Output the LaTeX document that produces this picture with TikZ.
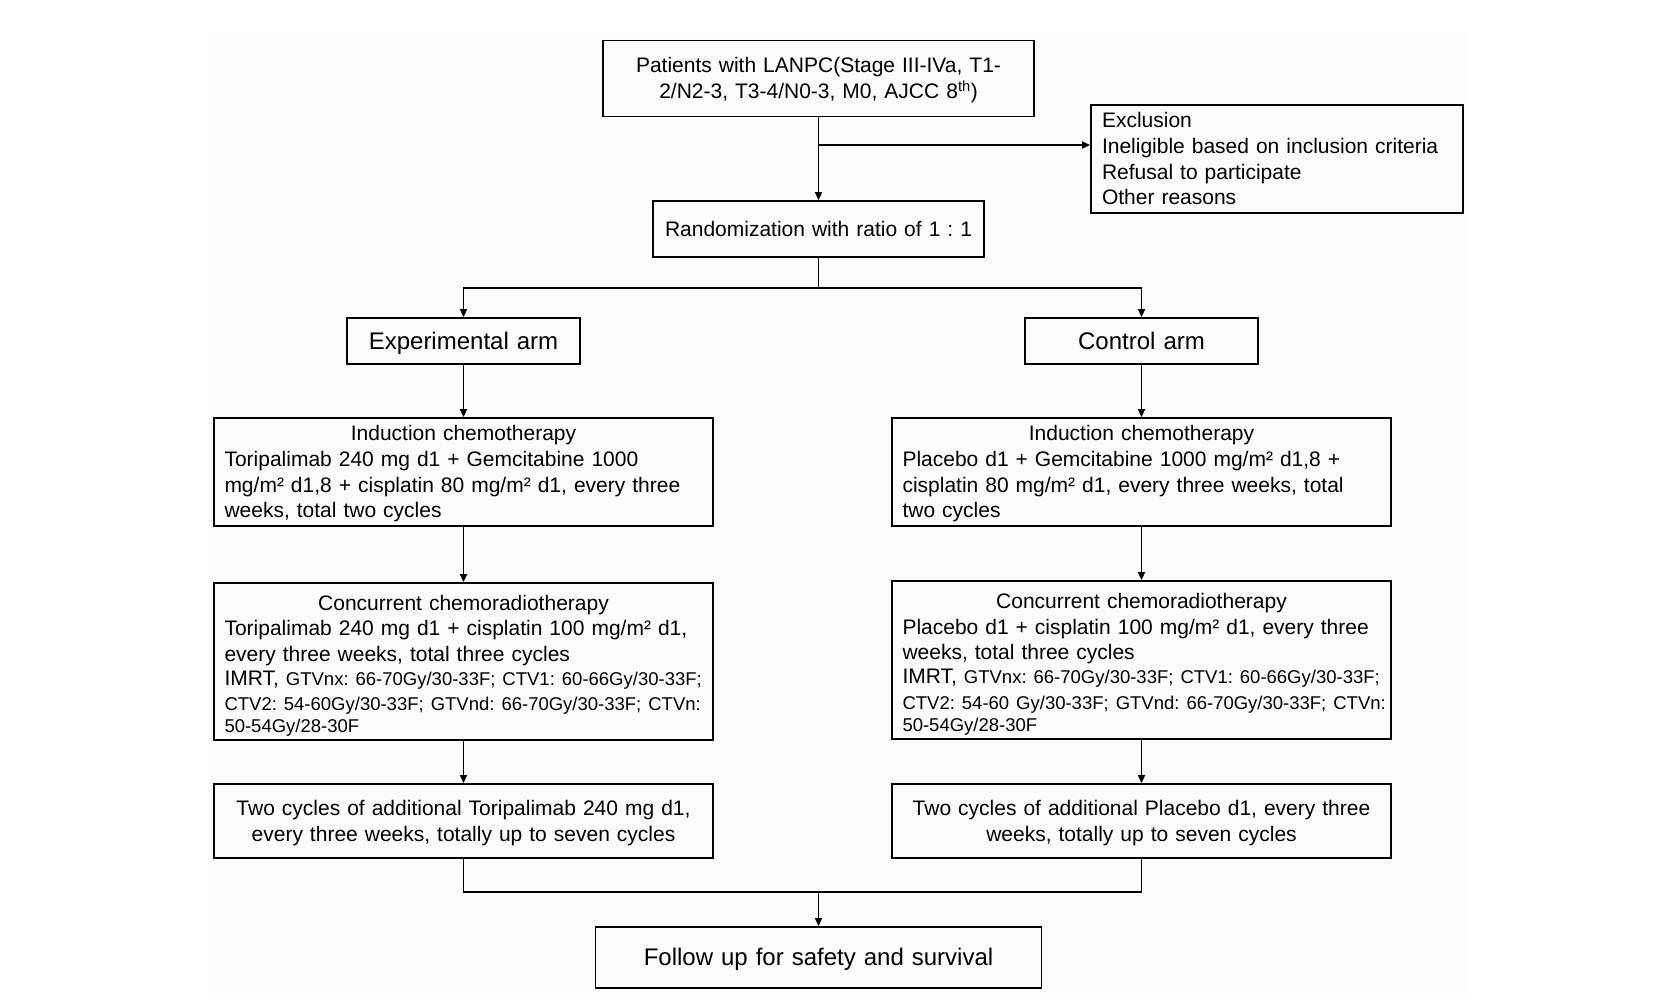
\documentclass[tikz,border=0pt]{standalone}
\usepackage{fontspec}
\setmainfont{Liberation Sans}
\usetikzlibrary{arrows.meta}
\definecolor{bgc}{RGB}{251,251,251}
\newcommand{\sm}{\fontsize{18.5}{23}\selectfont}
\frenchspacing
\begin{document}
\begin{tikzpicture}[x=1pt,y=-1pt,
  box/.style={draw, line width=1.8pt, inner xsep=10pt, inner ysep=0pt,
    font=\fontsize{21}{25.7}\selectfont\frenchspacing,
    execute at begin node={\rule{0pt}{0.905em}},
    execute at end node={\rule[-0.212em]{0pt}{0.212em}}},
  cbox/.style={box, text width=#1, align=center},
  wbox/.style={box, text width=478pt, inner xsep=10.5pt, align=left},
  big/.style={font=\fontsize{24}{29}\selectfont},
  ln/.style={line width=1.6pt},
  arr/.style={ln, -{Triangle[length=8pt,width=7pt]}}]
\useasboundingbox (0,0) rectangle (1676,1004);
\fill[bgc] (208,33) rectangle (1468,993);

\node[cbox=411pt, minimum height=76pt] (top) at (818.5,78.5)
  {Patients with LANPC(Stage III-IVa, T1-\\2/N2-3, T3-4/N0-3, M0, AJCC 8\textsuperscript{th})};
\node[box, text width=350pt, inner xsep=11pt, minimum height=108pt, align=left] (excl) at (1277,159)
  {Exclusion\\Ineligible based on inclusion criteria\\Refusal to participate\\Other reasons};
\node[cbox=311pt, minimum height=56pt] (rand) at (818.5,229)
  {Randomization with ratio of 1 : 1};
\node[cbox=213pt, big, minimum height=46pt] (expt) at (463.5,341) {Experimental arm};
\node[cbox=213pt, big, minimum height=46pt] (ctrl) at (1141.5,341) {Control arm};

\node[wbox, minimum height=108pt] (indL) at (463.5,472)
  {\makebox[\hsize]{Induction chemotherapy}\\
   \mbox{Toripalimab 240 mg d1 + Gemcitabine 1000}\\
   \mbox{mg/m² d1,8 + cisplatin 80 mg/m² d1, every three}\\
   weeks, total two cycles};
\node[wbox, minimum height=108pt] (indR) at (1141.5,472)
  {\makebox[\hsize]{Induction chemotherapy}\\
   \mbox{Placebo d1 + Gemcitabine 1000 mg/m² d1,8 +}\\
   \mbox{cisplatin 80 mg/m² d1, every three weeks, total}\\
   two cycles};

\node[wbox, minimum height=157pt] (conL) at (463.5,661.5)
  {\rule{0pt}{24pt}\makebox[\hsize]{Concurrent chemoradiotherapy}\\
   \mbox{Toripalimab 240 mg d1 + cisplatin 100 mg/m² d1,}\\
   every three weeks, total three cycles\\[-2pt]
   \mbox{IMRT, {\sm GTVnx: 66-70Gy/30-33F; CTV1: 60-66Gy/30-33F;}}\\
   \mbox{\sm CTV2: 54-60Gy/30-33F; GTVnd: 66-70Gy/30-33F; CTVn:}\\[-4pt]
   \mbox{\sm 50-54Gy/28-30F}};
\node[wbox, minimum height=158pt] (conR) at (1141.5,660)
  {\rule{0pt}{24pt}\makebox[\hsize]{Concurrent chemoradiotherapy}\\
   \mbox{Placebo d1 + cisplatin 100 mg/m² d1, every three}\\
   weeks, total three cycles\\[-2pt]
   \mbox{IMRT, {\sm GTVnx: 66-70Gy/30-33F; CTV1: 60-66Gy/30-33F;}}\\
   \mbox{\sm CTV2: 54-60 Gy/30-33F; GTVnd: 66-70Gy/30-33F; CTVn:}\\[-4pt]
   \mbox{\sm 50-54Gy/28-30F}};

\node[cbox=479pt, minimum height=74pt] (twoL) at (463.5,821)
  {Two cycles of additional Toripalimab 240 mg d1,\\every three weeks, totally up to seven cycles};
\node[cbox=479pt, minimum height=74pt] (twoR) at (1141.5,821)
  {Two cycles of additional Placebo d1, every three\\weeks, totally up to seven cycles};

\node[cbox=426pt, big, minimum height=61pt] (fol) at (818.5,957.5)
  {Follow up for safety and survival};

\coordinate (ex) at (818.5,145);
\coordinate (sp) at (818.5,288);
\coordinate (mg) at (818.5,892);
\draw[arr] (top.south) -- (rand.north);
\draw[arr] (ex) -- (ex -| excl.west);
\draw[ln] (rand.south) -- (sp);
\draw[arr] (sp) -| (expt.north);
\draw[arr] (sp) -| (ctrl.north);
\draw[arr] (expt.south) -- (indL.north);
\draw[arr] (ctrl.south) -- (indR.north);
\draw[arr] (indL.south) -- (conL.north);
\draw[arr] (indR.south) -- (conR.north);
\draw[arr] (conL.south) -- (twoL.north);
\draw[arr] (conR.south) -- (twoR.north);
\draw[ln] (twoL.south) |- (mg) -| (twoR.south);
\draw[arr] (mg) -- (fol.north);
\end{tikzpicture}
\end{document}
